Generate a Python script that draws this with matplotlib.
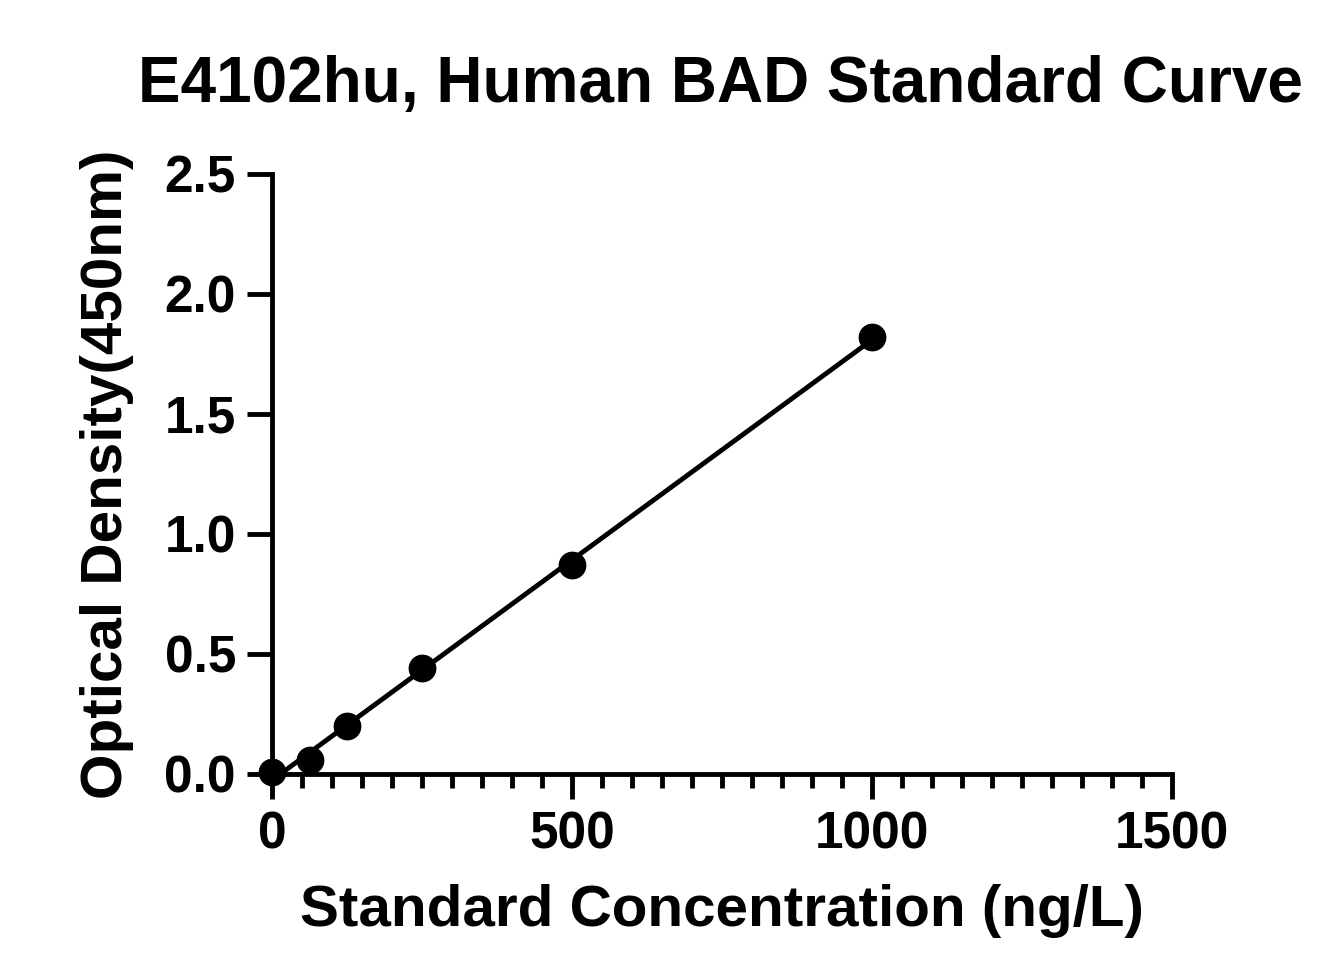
import matplotlib
matplotlib.use("Agg")
import matplotlib.pyplot as plt
import numpy as np
from matplotlib.ticker import MultipleLocator

plt.rcParams['font.family'] = ['Liberation Sans', 'DejaVu Sans']
plt.rcParams['font.weight'] = 'bold'

conc = [0, 62.5, 125, 250, 500, 1000]
od = [0.01, 0.06, 0.20, 0.44, 0.87, 1.82]

fig = plt.figure(figsize=(13.44, 9.75), dpi=100)
ax = fig.add_axes([0.2024, 0.2062, 0.6696, 0.6154])

# linear fit line through the standards
k, b = np.polyfit(conc, od, 1)
fx = np.array([0, max(conc)])
ax.plot(fx, k * fx + b, color='black', lw=3.5)
ax.plot(conc, od, 'o', color='black', ms=19)

ax.set_xlim(0, 1500)
ax.set_ylim(0, 2.5)
ax.xaxis.set_major_locator(MultipleLocator(500))
ax.xaxis.set_minor_locator(MultipleLocator(50))
ax.yaxis.set_major_locator(MultipleLocator(0.5))
ax.yaxis.set_major_formatter(plt.FormatStrFormatter('%.1f'))

for s in ['top', 'right']:
    ax.spines[s].set_visible(False)
for s in ['left', 'bottom']:
    ax.spines[s].set_linewidth(3.5)
ax.tick_params(which='major', length=18, width=3.5, labelsize=37, pad=8)
ax.tick_params(which='minor', length=10, width=3.5)
for a in ax.get_children():
    try:
        a.set_clip_on(False)
    except Exception:
        pass

ax.set_xlabel('Standard Concentration (ng/L)', fontsize=42, fontweight='bold', labelpad=18)
ax.set_ylabel('Optical Density(450nm)', fontsize=42, fontweight='bold', labelpad=22)
fig.text(0.536, 0.895, 'E4102hu, Human BAD Standard Curve', fontsize=46,
         fontweight='bold', ha='center')

fig.savefig('out.png', dpi=100)
